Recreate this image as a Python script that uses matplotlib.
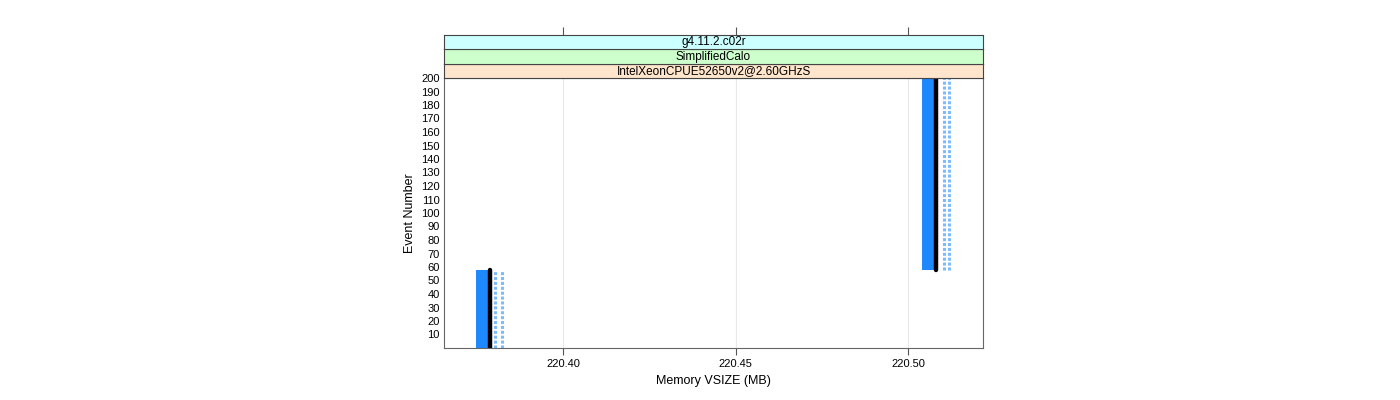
import matplotlib
matplotlib.use('Agg')
import matplotlib.pyplot as plt

plt.rcParams['font.family'] = ['Liberation Sans', 'DejaVu Sans']

# event ranges and memory values (MB)
event_start = [0, 57.5]
event_end = [57.5, 200]
vsize_band = [220.3765, 220.5058]      # wide blue band
vsize_main = [220.3787, 220.5081]      # black line
vsize_dot1 = [220.3803, 220.5104]      # light blue dotted
vsize_dot2 = [220.3823, 220.5119]      # light blue dotted

strip_labels = ['g4.11.2.c02r', 'SimplifiedCalo', 'IntelXeonCPUE52650v2@2.60GHzS']
strip_colors = ['#CCFFFF', '#CCFFCC', '#FFE5CC']

xticks = [220.40, 220.45, 220.50]
yticks = list(range(10, 201, 10))

fig = plt.figure(figsize=(14, 4), dpi=100)
L, R, B, T = 444/1400, 983/1400, 1-348/400, 1-78/400
ax = fig.add_axes([L, B, R-L, T-B])

for i in range(len(event_start)):
    ax.plot([vsize_band[i]]*2, [event_start[i], event_end[i]], color='#1E88FF', lw=8.6, solid_capstyle='butt')
    ax.plot([vsize_dot1[i]]*2, [event_start[i], event_end[i]], color='#7DBBFF', lw=2.2, dashes=(1, 0.6))
    ax.plot([vsize_dot2[i]]*2, [event_start[i], event_end[i]], color='#7DBBFF', lw=2.2, dashes=(1, 0.6))
    ax.plot([vsize_main[i]]*2, [event_start[i], event_end[i]], color='black', lw=3.2, solid_capstyle='round')

ax.set_xlim(220.3655, 220.5217)
ax.set_ylim(0, 200)
ax.set_xticks(xticks)
ax.set_xticklabels(['%.2f' % v for v in xticks], fontsize=8)
ax.set_yticks(yticks)
ax.set_yticklabels([str(v) for v in yticks], fontsize=8)
ax.tick_params(axis='y', length=0, pad=3)
ax.tick_params(axis='x', length=5, color='#555555', pad=3)
for x in xticks:
    ax.axvline(x, color='#E8E8E8', lw=0.8, zorder=0)
for s in ax.spines.values():
    s.set_color('#666666')
    s.set_linewidth(0.8)
ax.set_xlabel('Memory VSIZE (MB)', fontsize=9)
ax.set_ylabel('Event Number', fontsize=9)

# strips above panel
sh = 14.5/400
for k, (lab, col) in enumerate(zip(reversed(strip_labels), reversed(strip_colors))):
    sax = fig.add_axes([L, T + k*sh, R-L, sh])
    sax.set_facecolor(col)
    sax.set_xticks([]); sax.set_yticks([])
    for s in sax.spines.values():
        s.set_color('#444444')
        s.set_linewidth(0.8)
    sax.text(0.5, 0.45, lab, ha='center', va='center', fontsize=8.5, transform=sax.transAxes)
    if k == 2:
        sax.set_xlim(ax.get_xlim())
        sax.set_xticks(xticks)
        sax.set_xticklabels([])
        sax.tick_params(axis='x', top=True, bottom=False, length=6, color='#555555')

fig.savefig('out.png', dpi=100)
